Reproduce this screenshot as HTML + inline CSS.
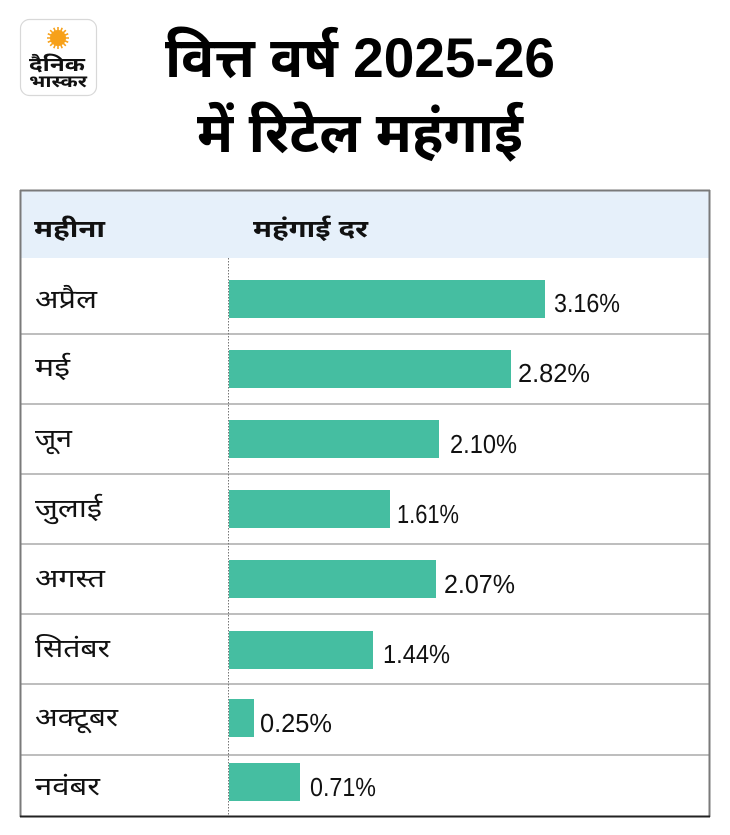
<!DOCTYPE html>
<html>
<head>
<meta charset="utf-8">
<style>
  html,body{margin:0;padding:0;background:#fff;}
  body{width:730px;height:835px;overflow:hidden;}
  svg{display:block;}
  .dev{font-family:"Liberation Sans","Noto Sans Devanagari","Lohit Devanagari","FreeSans",sans-serif;}
  .num{font-family:"Liberation Sans",sans-serif;}
</style>
</head>
<body>
<svg width="730" height="835" viewBox="0 0 730 835" xmlns="http://www.w3.org/2000/svg">
  <rect x="0" y="0" width="730" height="835" fill="#ffffff"/>

  <!-- Logo -->
  <rect x="20.5" y="19.5" width="76" height="76" rx="9" ry="9" fill="#ffffff" stroke="#d8d8d8" stroke-width="1.2"/>
  <g transform="translate(58,38)">
    <circle r="8" fill="#f7a11a"/>
    <g stroke="#f7a11a" stroke-width="1.6">
      <line x1="0" y1="-11" x2="0" y2="11"/>
      <line x1="-11" y1="0" x2="11" y2="0"/>
      <line x1="-7.8" y1="-7.8" x2="7.8" y2="7.8"/>
      <line x1="-7.8" y1="7.8" x2="7.8" y2="-7.8"/>
      <line x1="-4.2" y1="-10.2" x2="4.2" y2="10.2"/>
      <line x1="-10.2" y1="-4.2" x2="10.2" y2="4.2"/>
      <line x1="-4.2" y1="10.2" x2="4.2" y2="-10.2"/>
      <line x1="-10.2" y1="4.2" x2="10.2" y2="-4.2"/>
    </g>
  </g>
  <text class="dev" x="29" y="71" font-size="19" font-weight="bold" fill="#111" textLength="56" lengthAdjust="spacingAndGlyphs">दैनिक</text>
  <text class="dev" x="29" y="87" font-size="17" font-weight="bold" fill="#111" textLength="58" lengthAdjust="spacingAndGlyphs">भास्कर</text>

  <!-- Title -->
  <text class="dev" x="165" y="77" font-size="56" font-weight="bold" fill="#000" textLength="390" lengthAdjust="spacingAndGlyphs">वित्त वर्ष 2025-26</text>
  <text class="dev" x="197" y="152" font-size="56" font-weight="bold" fill="#000" textLength="326" lengthAdjust="spacingAndGlyphs">में रिटेल महंगाई</text>

  <!-- Header band -->
  <rect x="21" y="191" width="688" height="67" fill="#e6f0fa"/>
  <text class="dev" x="34" y="237" font-size="24" font-weight="bold" fill="#111" textLength="71" lengthAdjust="spacingAndGlyphs">महीना</text>
  <text class="dev" x="253" y="237" font-size="24" font-weight="bold" fill="#111" textLength="115" lengthAdjust="spacingAndGlyphs">महंगाई दर</text>

  <!-- Row separators -->
  <g stroke="#a8a8a8" stroke-width="1.5">
    <line x1="21" y1="334" x2="709" y2="334"/>
    <line x1="21" y1="404" x2="709" y2="404"/>
    <line x1="21" y1="474" x2="709" y2="474"/>
    <line x1="21" y1="544" x2="709" y2="544"/>
    <line x1="21" y1="614" x2="709" y2="614"/>
    <line x1="21" y1="684" x2="709" y2="684"/>
    <line x1="21" y1="755" x2="709" y2="755"/>
  </g>

  <!-- Dotted axis -->
  <line x1="228.5" y1="258" x2="228.5" y2="816" stroke="#777" stroke-width="1" stroke-dasharray="1.5,1.5"/>

  <!-- Bars -->
  <g fill="#45bea1">
    <rect x="229" y="280" width="316" height="38"/>
    <rect x="229" y="350" width="282" height="38"/>
    <rect x="229" y="420" width="210" height="38"/>
    <rect x="229" y="490" width="161" height="38"/>
    <rect x="229" y="560" width="207" height="38"/>
    <rect x="229" y="631" width="144" height="38"/>
    <rect x="229" y="699" width="25" height="38"/>
    <rect x="229" y="763" width="71" height="38"/>
  </g>

  <!-- Value labels -->
  <g class="num" font-size="26" fill="#111">
    <text x="554" y="312" textLength="66" lengthAdjust="spacingAndGlyphs">3.16%</text>
    <text x="518" y="382" textLength="72" lengthAdjust="spacingAndGlyphs">2.82%</text>
    <text x="450" y="453" textLength="67" lengthAdjust="spacingAndGlyphs">2.10%</text>
    <text x="397" y="523" textLength="62" lengthAdjust="spacingAndGlyphs">1.61%</text>
    <text x="444" y="593" textLength="71" lengthAdjust="spacingAndGlyphs">2.07%</text>
    <text x="383" y="663" textLength="67" lengthAdjust="spacingAndGlyphs">1.44%</text>
    <text x="260" y="732" textLength="72" lengthAdjust="spacingAndGlyphs">0.25%</text>
    <text x="310" y="796" textLength="66" lengthAdjust="spacingAndGlyphs">0.71%</text>
  </g>

  <!-- Month labels -->
  <g class="dev" font-size="26" fill="#111">
    <text x="35" y="308" textLength="62" lengthAdjust="spacingAndGlyphs">अप्रैल</text>
    <text x="35" y="376" textLength="35" lengthAdjust="spacingAndGlyphs">मई</text>
    <text x="35" y="447" textLength="37" lengthAdjust="spacingAndGlyphs">जून</text>
    <text x="35" y="517" textLength="67" lengthAdjust="spacingAndGlyphs">जुलाई</text>
    <text x="35" y="587" textLength="70" lengthAdjust="spacingAndGlyphs">अगस्त</text>
    <text x="35" y="657" textLength="75" lengthAdjust="spacingAndGlyphs">सितंबर</text>
    <text x="35" y="726" textLength="83" lengthAdjust="spacingAndGlyphs">अक्टूबर</text>
    <text x="35" y="795" textLength="65" lengthAdjust="spacingAndGlyphs">नवंबर</text>
  </g>

  <!-- Outer frame -->
  <line x1="20.5" y1="190" x2="20.5" y2="817" stroke="#7a7a7a" stroke-width="2"/>
  <line x1="20" y1="190.5" x2="710" y2="190.5" stroke="#7a7a7a" stroke-width="2"/>
  <line x1="709.5" y1="190" x2="709.5" y2="817" stroke="#7a7a7a" stroke-width="2"/>
  <line x1="20" y1="816.5" x2="710" y2="816.5" stroke="#222" stroke-width="2"/>
</svg>
</body>
</html>
